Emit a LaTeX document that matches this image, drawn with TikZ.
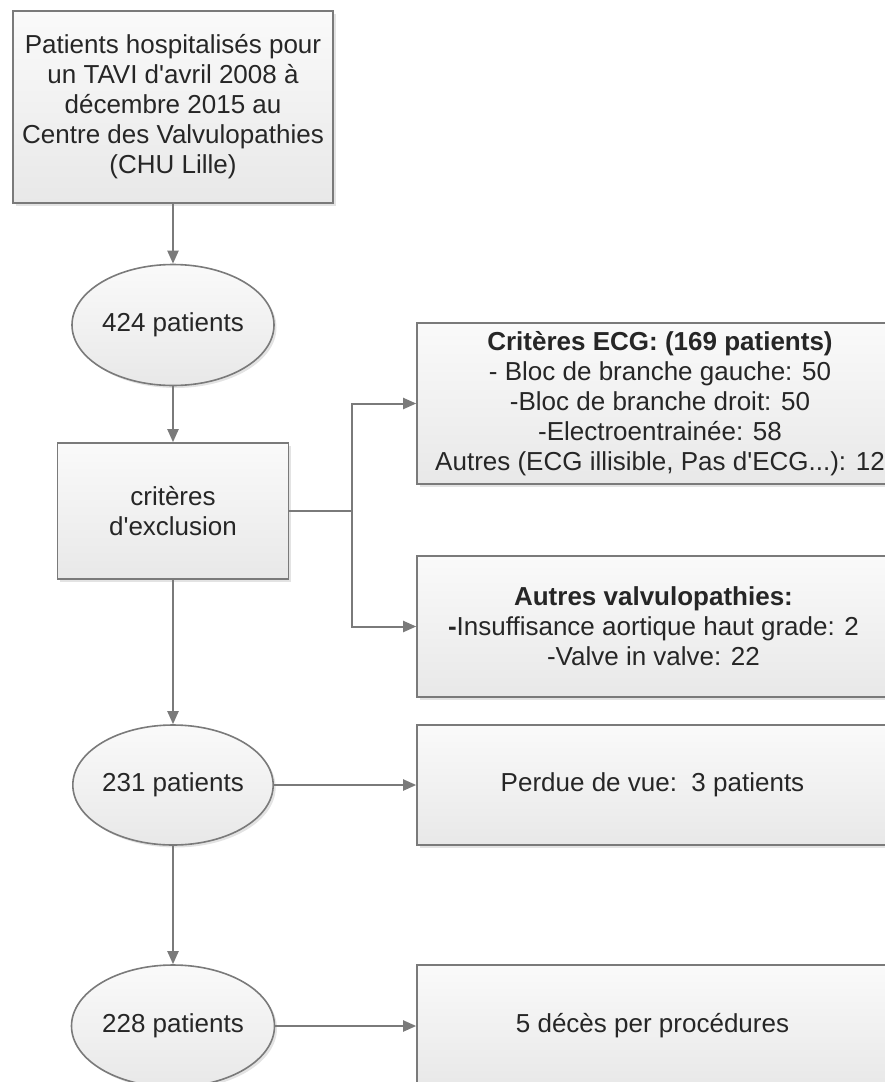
\documentclass[tikz,border=0pt]{standalone}
\usepackage{fontspec}
\setmainfont{Liberation Sans}
\usepackage{tikz}
\usetikzlibrary{calc, positioning, shapes, arrows.meta, shadows}
\definecolor{linegray}{HTML}{7A7A7A}
\definecolor{textgray}{HTML}{262626}
\newcommand{\q}{\textquotesingle}
\tikzset{
  base/.style={draw=linegray, line width=1.6pt, text=textgray, align=center,
    top color=white!98!black, bottom color=white!91!black, inner sep=0pt,
    drop shadow={shadow xshift=2.5pt, shadow yshift=-2.5pt, opacity=0.22},
    font=\fontsize{26}{30}\selectfont},
  box/.style={base, rectangle},
  oval/.style={base, ellipse},
  flow/.style={draw=linegray, line width=2pt, -{Triangle[length=13pt,width=11pt]}},
  link/.style={draw=linegray, line width=2pt}
}

\begin{document}
\begin{tikzpicture}[x=1pt, y=-1pt]
		\useasboundingbox (0,0) rectangle (885,1082);

		% left column
		\node[box, minimum width=320pt, minimum height=192pt] (src) at (173, 107)
		{Patients hospitalisés pour\\un TAVI d\q avril 2008 à\\décembre 2015 au\\Centre des Valvulopathies\\(CHU Lille)};
		\node[oval, minimum width=202pt, minimum height=121pt] (n424) at (173, 325) {424 patients};
		\node[box, minimum width=231pt, minimum height=136pt] (excl) at (173, 511) {critères\\d\q exclusion};
		\node[oval, minimum width=200pt, minimum height=120pt] (n231) at (173, 785) {231 patients};
		\node[oval, minimum width=203pt, minimum height=122pt] (n228) at (173, 1026) {228 patients};

		% right column
		\node[box, minimum width=486pt, minimum height=161pt] (ecg) at (660, 403.5)
		{\textbf{Critères ECG: (169 patients)}\\- Bloc de branche gauche: 50\\-Bloc de branche droit: 50\\-Electroentrainée: 58\\Autres (ECG illisible, Pas d\q ECG...): 12};
		\node[box, minimum width=473pt, minimum height=141pt] (valv) at (653.5, 626.5)
		{\textbf{Autres valvulopathies:}\\\textbf{-}Insuffisance aortique haut grade: 2\\-Valve in valve: 22};
		\node[box, minimum width=471pt, minimum height=120pt] (perdue) at (652.5, 785) {Perdue de vue:\ \ 3 patients};
		\node[box, minimum width=471pt, minimum height=122pt] (deces) at (652.5, 1026) {5 décès per procédures};

		\foreach \a / \b in {src/n424, n424/excl, excl/n231, n231/n228, n231/perdue, n228/deces}
		\draw[flow] (\a) -- (\b);

		% branch to the exclusion boxes
		\coordinate (br) at (352, 511);
		\draw[link] (excl) -- (br);
		\draw[flow] (br) |- (ecg);
		\draw[flow] (br) |- (valv);
	\end{tikzpicture}
\end{document}
